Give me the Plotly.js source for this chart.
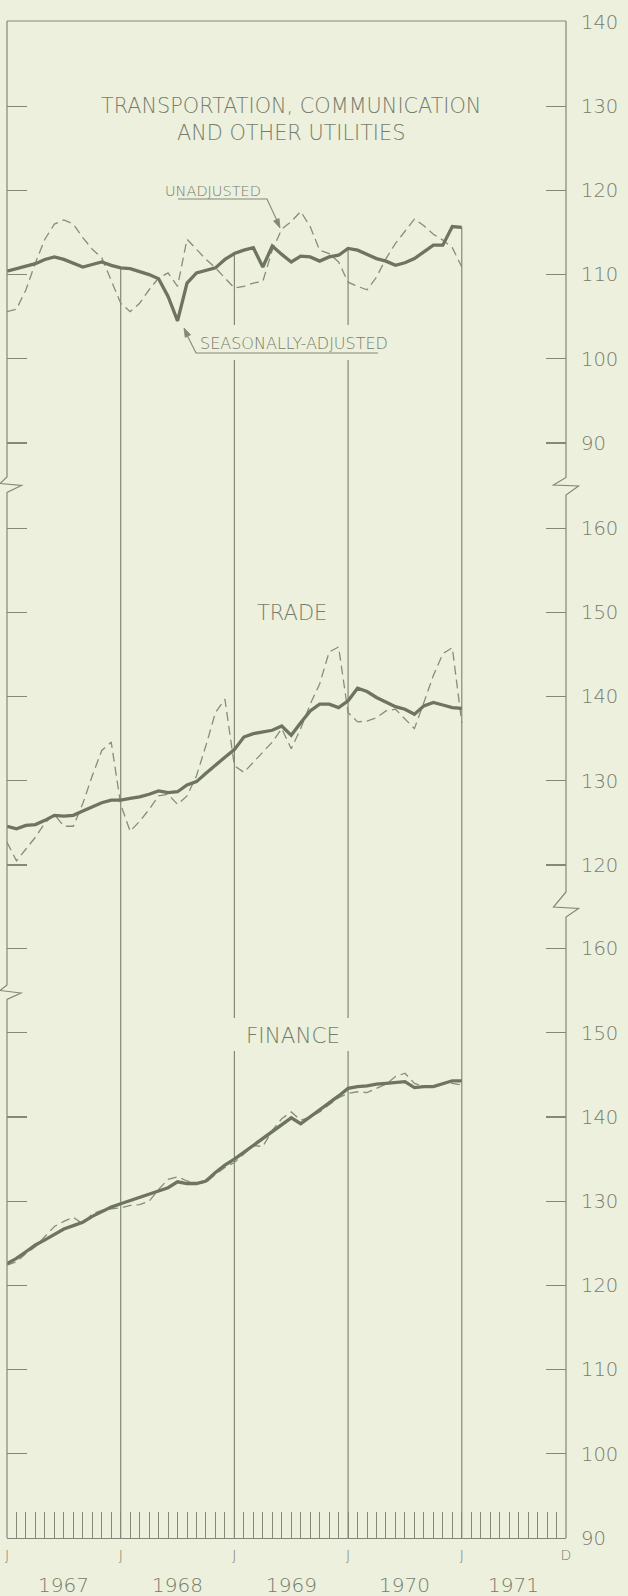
<!DOCTYPE html>
<html><head><meta charset="utf-8">
<script src="https://cdn.plot.ly/plotly-3.0.1.min.js"></script>
<style>html,body{margin:0;padding:0;background:#edf0dc;}</style>
</head><body><div id="chart" style="width:628px;height:1596px;"></div>
<script>
// ---- data (monthly, Jan 1967 .. Jan 1971) ----
const utilUnadj = [105.6,105.9,108.2,111.4,114.2,116.0,116.5,116.0,114.4,113.0,112.0,109.2,106.6,105.6,106.6,108.2,109.6,110.2,108.6,114.2,113.0,111.8,110.8,109.6,108.4,108.6,109.0,109.2,112.9,115.4,116.3,117.5,115.7,112.9,112.5,111.5,109.1,108.6,108.2,109.7,111.9,113.7,115.2,116.6,115.8,114.8,114.1,113.2,110.9];
const utilSA = [110.4,110.7,111.1,111.3,111.8,112.1,111.8,111.3,110.9,111.2,111.5,111.1,110.8,110.7,110.4,110.0,109.5,107.4,104.5,109.0,110.2,110.5,110.8,111.8,112.5,112.9,113.2,110.9,113.4,112.4,111.5,112.2,112.1,111.6,112.1,112.3,113.1,112.9,112.4,111.9,111.6,111.1,111.4,111.9,112.7,113.5,113.5,115.7,115.6];
const tradeUnadj = [122.7,120.5,121.9,123.3,125.0,126.0,124.6,124.6,127.3,130.6,133.6,134.6,127.2,124.0,125.2,126.6,128.2,128.4,127.2,128.2,130.6,134.2,138.1,139.7,131.8,131.0,132.2,133.4,134.6,136.2,133.8,136.2,139.1,141.5,145.3,145.9,138.1,137.0,137.1,137.5,138.3,138.5,137.3,136.2,139.3,142.5,145.1,145.8,136.9];
const tradeSA = [124.6,124.3,124.7,124.8,125.3,125.9,125.8,125.9,126.4,126.9,127.4,127.7,127.7,127.9,128.1,128.4,128.8,128.6,128.7,129.5,129.9,130.9,131.9,132.8,133.7,135.2,135.6,135.8,136.0,136.5,135.4,136.9,138.3,139.1,139.1,138.7,139.5,141.0,140.6,139.9,139.3,138.8,138.5,137.9,138.9,139.3,139.0,138.7,138.6];
const finUnadj = [122.4,122.8,123.8,124.6,125.8,127.0,127.6,128.1,127.3,128.5,128.9,129.1,129.2,129.5,129.6,130.0,131.4,132.6,132.9,132.4,132.1,132.2,133.2,134.0,134.6,135.6,136.6,136.5,138.4,139.8,140.6,139.6,140.0,140.6,141.4,142.3,142.8,143.0,142.9,143.4,143.9,144.8,145.2,144.0,143.6,143.6,144.0,144.0,143.8];
const finSA = [122.6,123.2,124.0,124.8,125.4,126.1,126.7,127.1,127.5,128.2,128.8,129.3,129.7,130.1,130.4,130.8,131.2,131.6,132.3,132.1,132.1,132.4,133.4,134.3,135.0,135.8,136.7,137.4,138.2,139.0,139.9,139.2,140.0,140.8,141.6,142.5,143.4,143.6,143.7,143.9,144.0,144.1,144.2,143.5,143.6,143.6,144.0,144.3,144.3];
const monthIndex = utilSA.map((_, i) => i);           // 0 = Jan 1967
const xTickVals = [0, 12, 24, 36, 48, 59];
const xTickText = ['J', 'J', 'J', 'J', 'J', 'D'];
const yearLabels = ['1967', '1968', '1969', '1970', '1971'];
const yearMid = [6, 18, 30, 42, 53.5];
const januaries = [12, 24, 36, 48];
const ticks1 = [90, 100, 110, 120, 130, 140];
const ticks2 = [120, 130, 140, 150, 160];
const ticks3 = [90, 100, 110, 120, 130, 140, 150, 160];

// ---- styling / geometry ----
const bg = '#edf0dc', lineCol = '#838878', textCol = '#767c6c', saCol = '#6d7461', dashCol = '#878c7b';
const FONT = '"DejaVu Sans", sans-serif';
const L = 7, R = 566, T = 21, B = 1538, PPU = 8.42;
const fx = x => (x - L) / (R - L);
const fy = y => (B - y) / (B - T);
const p1lo = 90 - (487 - 443) / PPU, p1hi = p1lo + (487 - T) / PPU;
const p2lo = 120 - (908 - 865) / PPU, p2hi = p2lo + (908 - 487) / PPU;
const p3lo = 90, p3hi = 90 + (B - 908) / PPU;

function trace(y, ya, dashed) {
  return {x: monthIndex, y: y, xaxis: 'x', yaxis: ya, type: 'scatter', mode: 'lines', hoverinfo: 'skip',
    line: dashed ? {color: dashCol, width: 1.3, dash: '9px,5px'} : {color: saCol, width: 3.3}};
}
const data = [
  trace(utilUnadj, 'y', true), trace(utilSA, 'y', false),
  trace(tradeUnadj, 'y2', true), trace(tradeSA, 'y2', false),
  trace(finUnadj, 'y3', true), trace(finSA, 'y3', false)
];

function yax(dom, rng, tv) {
  return {domain: dom, range: rng, anchor: 'x', side: 'right', tickvals: tv, ticks: 'inside', ticklen: 20,
    tickwidth: 1.1, tickcolor: lineCol, mirror: 'ticks', showline: false, showgrid: false, zeroline: false,
    ticklabelstandoff: 14, tickfont: {family: FONT, size: 19.5, color: textCol, weight: 200}};
}
function pth(pts) { return pts.map((p, i) => (i ? 'L' : 'M') + fx(p[0]) + ',' + fy(p[1])).join(' '); }
function arrowHead(x1, y1, x2, y2, len, half) {
  const dx = x2 - x1, dy = y2 - y1, d = Math.hypot(dx, dy), ux = dx / d, uy = dy / d;
  const bx = x2 - ux * len, by = y2 - uy * len, px = -uy * half, py = ux * half;
  return pth([[x2, y2], [bx + px, by + py], [bx - px, by - py]]) + ' Z';
}

const shapes = [];
januaries.forEach(m => {
  shapes.push({type: 'line', layer: 'below', xref: 'x', yref: 'paper', x0: m, x1: m, y0: 0, y1: fy(487), line: {color: lineCol, width: 1.2}});
  shapes.push({type: 'line', layer: 'below', xref: 'x', yref: 'y', x0: m, x1: m, y0: p1lo, y1: utilSA[m], line: {color: lineCol, width: 1.2}});
});
// masks behind labels
shapes.push({type: 'rect', layer: 'above', xref: 'paper', yref: 'paper', x0: fx(200), x1: fx(388), y0: fy(360), y1: fy(325), fillcolor: bg, line: {width: 0}});
shapes.push({type: 'rect', layer: 'above', xref: 'paper', yref: 'paper', x0: fx(229), x1: fx(356), y0: fy(1051), y1: fy(1018), fillcolor: bg, line: {width: 0}});
// label leaders
shapes.push({type: 'path', layer: 'above', xref: 'paper', yref: 'paper', path: pth([[178, 199], [267, 199], [279, 225]]), line: {color: lineCol, width: 1.1}});
shapes.push({type: 'path', layer: 'above', xref: 'paper', yref: 'paper', path: arrowHead(267, 199, 280, 228, 9, 3), fillcolor: lineCol, line: {color: lineCol, width: 0.8}});
shapes.push({type: 'path', layer: 'above', xref: 'paper', yref: 'paper', path: pth([[378, 353], [196, 353], [185, 331]]), line: {color: lineCol, width: 1.1}});
shapes.push({type: 'path', layer: 'above', xref: 'paper', yref: 'paper', path: arrowHead(196, 353, 184, 328, 9, 3), fillcolor: lineCol, line: {color: lineCol, width: 0.8}});
// frame with break marks
shapes.push({type: 'path', layer: 'above', xref: 'paper', yref: 'paper', path: pth([[L, T], [R, T]]), line: {color: lineCol, width: 1.2}});
shapes.push({type: 'path', layer: 'above', xref: 'paper', yref: 'paper',
  path: pth([[L, T], [L, 477], [0, 483.5], [21.5, 485.5], [L, 492.5], [L, 985], [0, 990.5], [21, 993], [L, 999.5], [L, B]]),
  line: {color: lineCol, width: 1.2}});
shapes.push({type: 'path', layer: 'above', xref: 'paper', yref: 'paper',
  path: pth([[R, T], [R, 477.5], [553.5, 485], [578.5, 486], [R, 495], [R, 892], [553.5, 907], [578.5, 908.5], [R, 917], [R, B]]),
  line: {color: lineCol, width: 1.2}});

function ann(text, x, y, size) {
  return {text: text, xref: 'paper', yref: 'paper', x: fx(x), y: fy(y), xanchor: 'center', yanchor: 'middle',
    showarrow: false, align: 'center', font: {family: FONT, size: size, color: textCol, weight: 200}};
}
const annotations = [
  ann('TRANSPORTATION, COMMUNICATION<br>AND OTHER UTILITIES', 291, 119.5, 20.8),
  ann('UNADJUSTED', 213, 191, 14.5),
  ann('SEASONALLY-ADJUSTED', 294, 343, 16),
  ann('TRADE', 292, 613, 21),
  ann('FINANCE', 293, 1035, 21.5)
];
yearLabels.forEach((t, i) => annotations.push({text: t, xref: 'x', yref: 'paper', x: yearMid[i], y: fy(1585),
  xanchor: 'center', yanchor: 'middle', showarrow: false, font: {family: FONT, size: 20, color: textCol, weight: 200}}));

const layout = {
  width: 628, height: 1596, margin: {l: L, r: 628 - R, t: T, b: 1596 - B, pad: 0},
  paper_bgcolor: bg, plot_bgcolor: bg, showlegend: false,
  xaxis: {domain: [0, 1], anchor: 'y3', range: [0, 59], tickvals: xTickVals, ticktext: xTickText,
    ticks: 'inside', ticklen: 26, tickwidth: 1, tickcolor: lineCol, showline: true, linecolor: lineCol, linewidth: 1.2,
    showgrid: false, zeroline: false, ticklabelstandoff: 4,
    tickfont: {family: FONT, size: 14, color: textCol, weight: 200},
    minor: {tickmode: 'linear', tick0: 0, dtick: 1, ticks: 'inside', ticklen: 26, tickwidth: 1, tickcolor: lineCol, showgrid: false}},
  yaxis: yax([fy(487), 1], [p1lo, p1hi], ticks1),
  yaxis2: yax([fy(908), fy(487)], [p2lo, p2hi], ticks2),
  yaxis3: yax([0, fy(908)], [p3lo, p3hi], ticks3),
  shapes: shapes, annotations: annotations
};
Plotly.newPlot('chart', data, layout, {displayModeBar: false, staticPlot: true});
</script></body></html>
